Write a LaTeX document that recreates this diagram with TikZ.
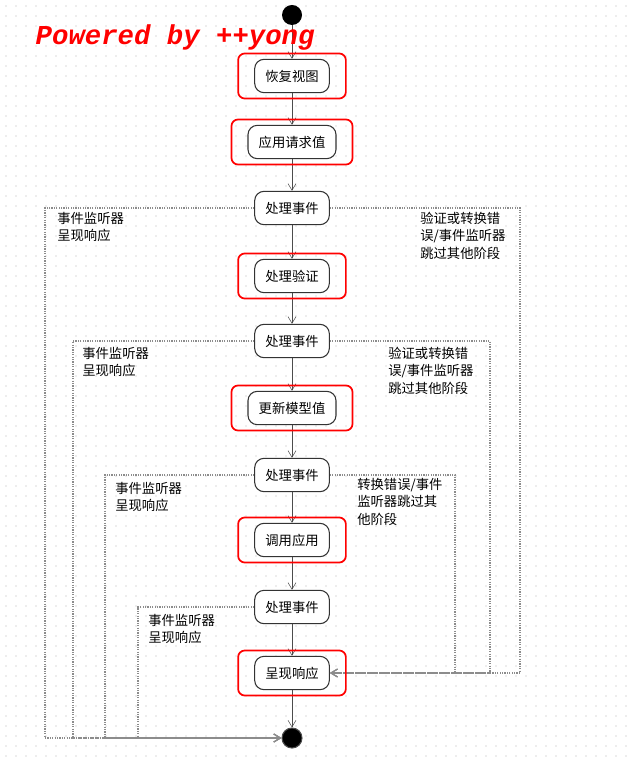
\documentclass[tikz,border=0pt]{standalone}
\usepackage{fontspec}
\newfontfamily\cjk{Noto Sans CJK SC}
\newfontfamily\monob{Liberation Mono}
\usetikzlibrary{fit,arrows.meta}

\begin{document}
\begin{tikzpicture}[x=0.75pt, y=-0.75pt, font=\cjk\fontsize{10}{13}\selectfont,
  state/.style = {draw=black!80, thick, rounded corners=7pt, minimum height=25pt, inner xsep=8pt, fill=white},
  redmark/.style = {draw=red, line width=1.3pt, rounded corners=5pt, inner xsep=12pt, inner ysep=4pt},
  flow/.style = {draw=black!70, -{Straight Barb[length=5pt,width=6pt]}},
  back/.style = {draw=black!45, densely dotted, thick, -{Straight Barb[length=5pt,width=6pt]}},
  note/.style = {align=left, anchor=north west, inner sep=0pt}]
\useasboundingbox (0,0) rectangle (632,762);
% dotted background
\foreach \x in {6,16,...,626} \foreach \y in {6,16,...,756}
  \fill[black!30] (\x,\y) circle (0.4pt);

\node[circle, fill=black, minimum size=15pt, inner sep=0pt] (start) at (292,15) {};
\node[state] (restore) at (292,76) {恢复视图};
\node[state] (apply) at (292,142) {应用请求值};
\node[state] (ev1) at (292,208) {处理事件};
\node[state] (valid) at (292,276) {处理验证};
\node[state] (ev2) at (292,341) {处理事件};
\node[state] (update) at (292,408) {更新模型值};
\node[state] (ev3) at (292,475) {处理事件};
\node[state] (invoke) at (292,540) {调用应用};
\node[state] (ev4) at (292,607) {处理事件};
\node[state] (render) at (292,673) {呈现响应};
\node[circle, draw=black!70, thick, fill=black, minimum size=15pt, inner sep=0pt] (end) at (292,738) {};

% return paths
\draw[back] (ev1.west) -- (45,208) |- (end.west);
\draw[back] (ev2.west) -- (73,341) |- (end.west);
\draw[back] (ev3.west) -- (105,475) |- (end.west);
\draw[back] (ev4.west) -- (138,607) |- (end.west);
\draw[back] (ev1.east) -- (520,208) |- (render.east);
\draw[back] (ev2.east) -- (490,341) |- (render.east);
\draw[back] (ev3.east) -- (455,475) |- (render.east);

\draw[flow] (start) -- (restore);
\draw[flow] (restore) -- (apply);
\draw[flow] (apply) -- (ev1);
\draw[flow] (ev1) -- (valid);
\draw[flow] (valid) -- (ev2);
\draw[flow] (ev2) -- (update);
\draw[flow] (update) -- (ev3);
\draw[flow] (ev3) -- (invoke);
\draw[flow] (invoke) -- (ev4);
\draw[flow] (ev4) -- (render);
\draw[flow] (render) -- (end);

% highlighted phases
\foreach \n in {restore,apply,valid,update,invoke,render}
  \node[redmark, fit=(\n)] {};

\node[note] (l1) at (57,212) {事件监听器\\呈现响应};
\node[note] (l2) at (82,347) {事件监听器\\呈现响应};
\node[note] (l3) at (115,482) {事件监听器\\呈现响应};
\node[note] (l4) at (148,614) {事件监听器\\呈现响应};
\node[note] (r1) at (420,212) {验证或转换错\\误/事件监听器\\跳过其他阶段};
\node[note] (r2) at (388,347) {验证或转换错\\误/事件监听器\\跳过其他阶段};
\node[note] (r3) at (357,478) {转换错误/事件\\监听器跳过其\\他阶段};

\node[text=red, font=\monob\bfseries\itshape\fontsize{20.5}{22}\selectfont, anchor=west] (title) at (31,37) {Powered by ++yong};
\end{tikzpicture}
\end{document}
